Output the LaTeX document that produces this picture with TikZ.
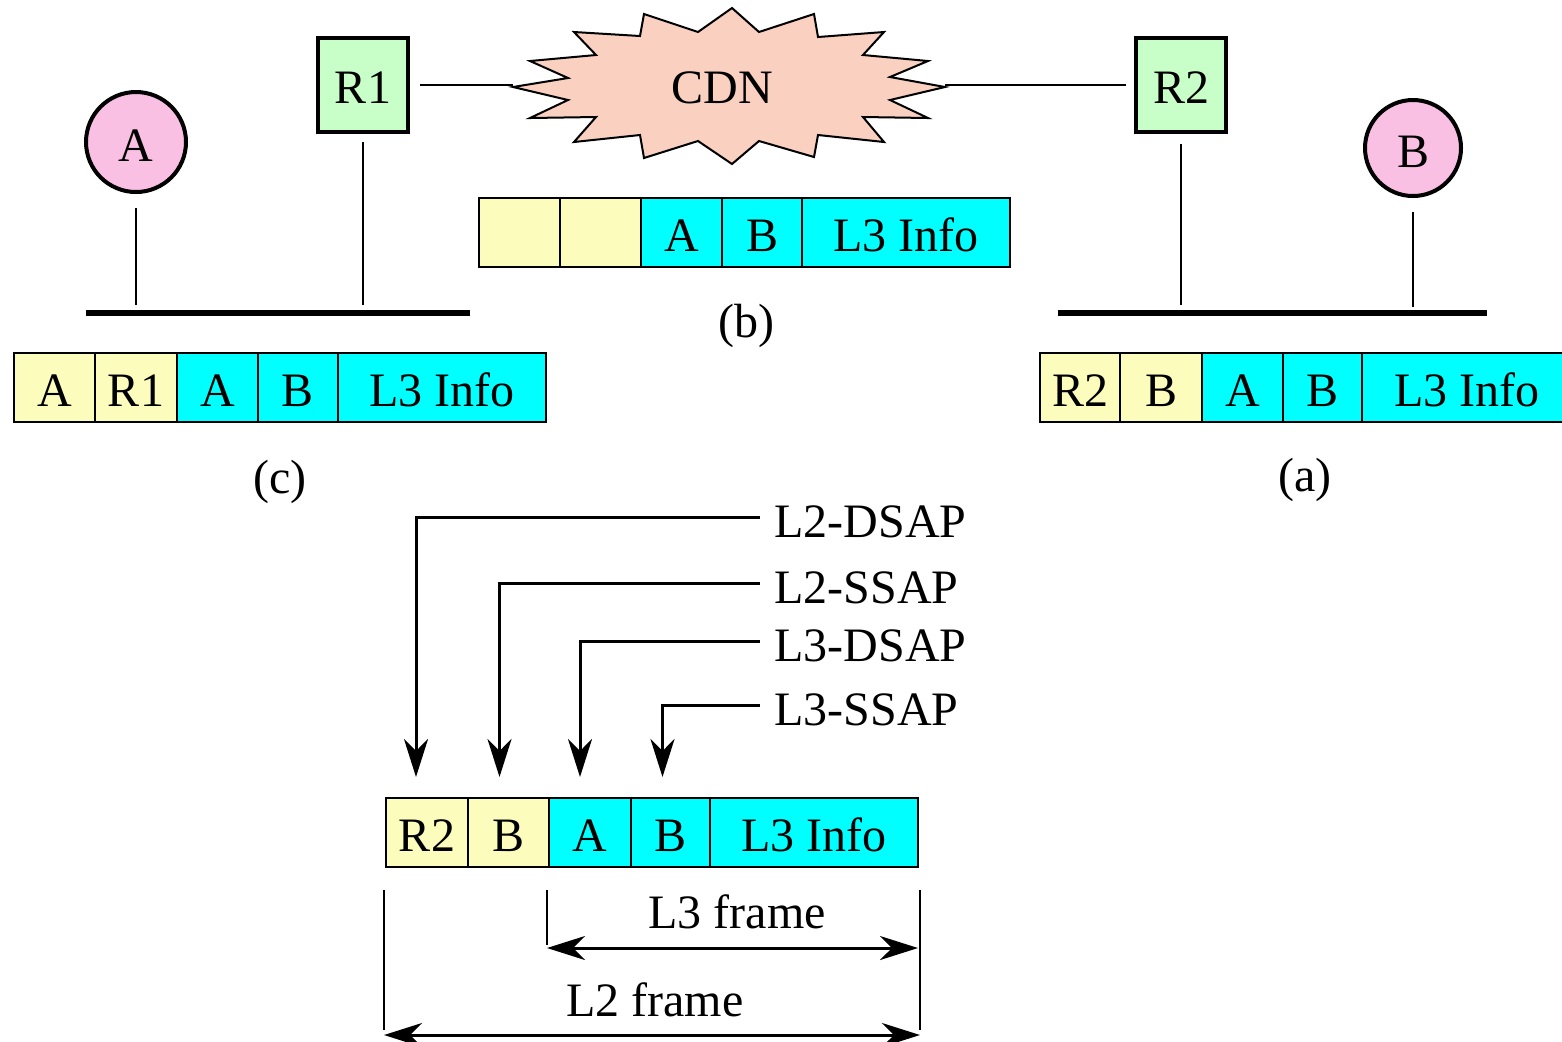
\documentclass[tikz,border=0pt]{standalone}
\usepackage{fontspec}
\setmainfont{Liberation Serif}
\usetikzlibrary{arrows.meta, positioning, calc}
\definecolor{hostPink}{RGB}{249,192,228}
\definecolor{routerGreen}{RGB}{200,255,200}
\definecolor{cdnSalmon}{RGB}{250,208,192}
\definecolor{hdrYellow}{RGB}{252,252,188}
\definecolor{pktCyan}{RGB}{0,255,255}
\tikzset{
    wire/.style={line width=1.2pt},
    bus/.style={line width=3pt},
    sapArrow/.style={line width=1.5pt, -{Stealth[length=19pt, width=12pt, inset=6pt]}},
    dimArrow/.style={line width=1.5pt,
        {Stealth[length=19pt, width=12pt, inset=6pt]}-{Stealth[length=19pt, width=12pt, inset=6pt]}},
}

\begin{document}
\begin{tikzpicture}[
    x=0.5pt, y=-0.5pt,
    font=\fontsize{24}{28}\selectfont,
    host/.style={
        circle,
        draw,
        line width=2pt,
        fill=hostPink,
        minimum size=50pt,
        text height=19pt,
        text depth=0pt,
        inner sep=0pt
    },
    router/.style={
        rectangle,
        draw,
        line width=2.2pt,
        fill=routerGreen,
        minimum width=45pt,
        minimum height=47pt,
        text height=18pt,
        text depth=0pt,
        inner sep=0pt
    },
    cell/.style={
        rectangle,
        draw,
        line width=1.3pt,
        minimum height=34.5pt,
        text height=19pt,
        text depth=0pt,
        inner sep=0pt,
        outer sep=0pt
    },
    hdr_cell/.style={cell, fill=hdrYellow, minimum width=40.5pt},
    pkt_cell/.style={cell, fill=pktCyan, minimum width=40.5pt},
    info_cell/.style={cell, fill=pktCyan, minimum width=104pt},
    sap_label/.style={anchor=west, inner xsep=7pt, inner ysep=2pt},
    node distance=0pt
]
    \useasboundingbox (0,0) rectangle (1562,1041);

    % Network
    \node[host] (hostA) at (136,142) {A};
    \node[host, minimum size=48pt] (hostB) at (1413,148) {B};
    \node[router] (r1) at (363,85) {R1};
    \node[router] (r2) at (1181,85) {R2};

    \draw[wire, line width=1pt, fill=cdnSalmon] (732,8) -- (759,32) -- (814,14) -- (818,37) -- (884,32)
        -- (863,55) -- (928,61) -- (890,77) -- (945,87) -- (890,100) -- (928,118)
        -- (863,117) -- (884,142) -- (818,135) -- (814,157) -- (759,141) -- (732,164)
        -- (698,141) -- (644,158) -- (640,135) -- (574,142) -- (596,117) -- (530,118)
        -- (568,100) -- (513,87) -- (568,78) -- (530,61) -- (596,55) -- (574,32)
        -- (640,36) -- (644,14) -- (698,32) -- cycle;
    \node (cdn) at (722,88) {CDN};
    \coordinate (cdnW) at (513,87);
    \coordinate (cdnE) at (945,87);

    \draw[wire, shorten <=5pt] (r1.east) -- (r1.east -| cdnW);
    \draw[wire, shorten <=4pt] (r2.west) -- (r2.west -| cdnE);

    \coordinate (busLw) at (86,313);
    \coordinate (busLe) at (470,313);
    \coordinate (busRw) at (1058,313);
    \coordinate (busRe) at (1487,313);
    \draw[bus] (busLw) -- (busLe);
    \draw[bus] (busRw) -- (busRe);
    \draw[wire, shorten <=7pt, shorten >=4pt] (hostA) -- (hostA |- busLw);
    \draw[wire, shorten <=4pt, shorten >=4pt] (r1) -- (r1 |- busLw);
    \draw[wire, shorten <=5pt, shorten >=4pt] (r2) -- (r2 |- busRw);
    \draw[wire, shorten <=7pt, shorten >=3pt] (hostB) -- (hostB |- busRw);

    % Frame (b)
    \node[hdr_cell, anchor=north west] (b1) at (479,198) {};
    \node[hdr_cell, right=of b1] (b2) {};
    \node[pkt_cell, right=of b2] (b3) {A};
    \node[pkt_cell, right=of b3, minimum width=40pt] (b4) {B};
    \node[info_cell, right=of b4] (b5) {L3 Info};
    \node (labB) at (746,326) {(b)};

    % Frame (c)
    \node[hdr_cell, anchor=north west] (c1) at (14,353) {A};
    \node[hdr_cell, right=of c1, minimum width=41pt] (c2) {R1};
    \node[pkt_cell, right=of c2] (c3) {A};
    \node[pkt_cell, right=of c3, minimum width=40pt] (c4) {B};
    \node[info_cell, right=of c4] (c5) {L3 Info};
    \node (labC) at (280,482) {(c)};

    % Frame (a)
    \node[hdr_cell, anchor=north west, minimum width=40pt] (a1) at (1040,353) {R2};
    \node[hdr_cell, right=of a1, minimum width=41pt] (a2) {B};
    \node[pkt_cell, right=of a2] (a3) {A};
    \node[pkt_cell, right=of a3, minimum width=39.5pt] (a4) {B};
    \node[info_cell, right=of a4, minimum width=105pt] (a5) {L3 Info};
    \node (labA) at (1305,480) {(a)};

    % Bottom frame
    \node[hdr_cell, anchor=north west, minimum width=41pt] (f1) at (386,798) {R2};
    \node[hdr_cell, right=of f1] (f2) {B};
    \node[pkt_cell, right=of f2, minimum width=41pt] (f3) {A};
    \node[pkt_cell, right=of f3, minimum width=39.5pt] (f4) {B};
    \node[info_cell, right=of f4] (f5) {L3 Info};

    % SAP pointers
    \node[sap_label] (l2dsap) at (760,522) {L2-DSAP};
    \node[sap_label] (l2ssap) at (760,588) {L2-SSAP};
    \node[sap_label] (l3dsap) at (760,646) {L3-DSAP};
    \node[sap_label] (l3ssap) at (760,710) {L3-SSAP};
    \draw[sapArrow] ([yshift=2.5pt]l2dsap.west) -| ([xshift=-5.5pt, yshift=10.5pt]f1.north);
    \draw[sapArrow] ([yshift=2.5pt]l2ssap.west) -| ([xshift=-4.5pt, yshift=10.5pt]f2.north);
    \draw[sapArrow] ([yshift=2.5pt]l3dsap.west) -| ([xshift=-5pt, yshift=10.5pt]f3.north);
    \draw[sapArrow] ([yshift=2.5pt]l3ssap.west) -| ([xshift=-4pt, yshift=10.5pt]f4.north);

    % Frame extents
    \coordinate (extL) at (384,890);
    \coordinate (extM) at (547,890);
    \coordinate (extR) at (920,890);
    \coordinate (l3s) at (547,948);
    \coordinate (l3e) at (918,948);
    \coordinate (l2s) at (384,1035);
    \coordinate (l2e) at (920,1035);
    \draw[wire, line width=1.3pt] (extL) -- ([yshift=-70pt]extL);
    \draw[wire, line width=1.3pt] (extM) -- ([yshift=-27.5pt]extM);
    \draw[wire, line width=1.3pt] (extR) -- ([yshift=-70pt]extR);
    \draw[dimArrow] (l3s) -- (l3e);
    \draw[dimArrow] (l2s) -- (l2e);
    \node (l3frame) at (737,912) {L3 frame};
    \node (l2frame) at (655,1000) {L2 frame};
\end{tikzpicture}
\end{document}
